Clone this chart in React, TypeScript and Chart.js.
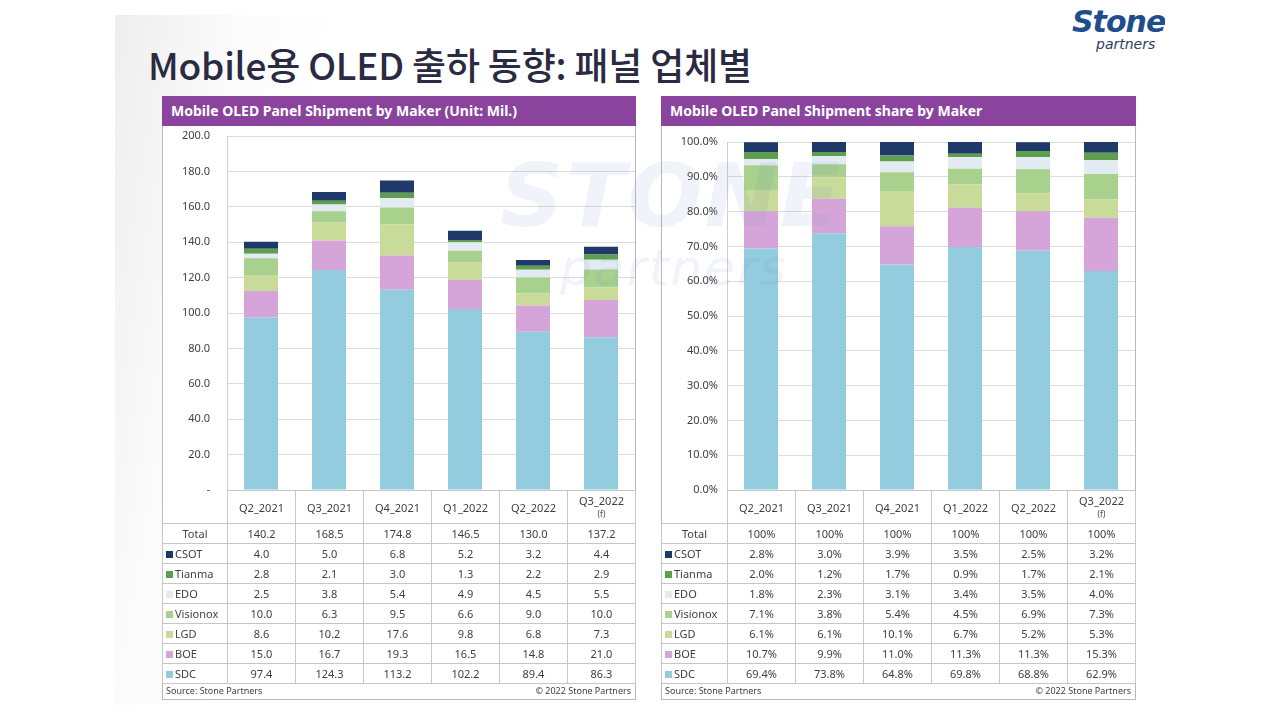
import React, { useEffect, useRef } from "react";
import { Chart, registerables } from "chart.js";

Chart.register(...registerables);

// ---------- DATA ----------
const categories = ["Q2_2021", "Q3_2021", "Q4_2021", "Q1_2022", "Q2_2022", "Q3_2022"];
const categoryNotes = ["", "", "", "", "", "(f)"];
const makers = ["CSOT", "Tianma", "EDO", "Visionox", "LGD", "BOE", "SDC"];
const makerColors = ["#1F3A68", "#5E9E4E", "#E1EBF1", "#A7D18C", "#C9DB99", "#D5A5D9", "#93CCDE"];

const csotUnits = [4.0, 5.0, 6.8, 5.2, 3.2, 4.4];
const tianmaUnits = [2.8, 2.1, 3.0, 1.3, 2.2, 2.9];
const edoUnits = [2.5, 3.8, 5.4, 4.9, 4.5, 5.5];
const visionoxUnits = [10.0, 6.3, 9.5, 6.6, 9.0, 10.0];
const lgdUnits = [8.6, 10.2, 17.6, 9.8, 6.8, 7.3];
const boeUnits = [15.0, 16.7, 19.3, 16.5, 14.8, 21.0];
const sdcUnits = [97.4, 124.3, 113.2, 102.2, 89.4, 86.3];
const totalUnits = [140.2, 168.5, 174.8, 146.5, 130.0, 137.2];

const csotShare = [2.8, 3.0, 3.9, 3.5, 2.5, 3.2];
const tianmaShare = [2.0, 1.2, 1.7, 0.9, 1.7, 2.1];
const edoShare = [1.8, 2.3, 3.1, 3.4, 3.5, 4.0];
const visionoxShare = [7.1, 3.8, 5.4, 4.5, 6.9, 7.3];
const lgdShare = [6.1, 6.1, 10.1, 6.7, 5.2, 5.3];
const boeShare = [10.7, 9.9, 11.0, 11.3, 11.3, 15.3];
const sdcShare = [69.4, 73.8, 64.8, 69.8, 68.8, 62.9];
const totalShare = [100, 100, 100, 100, 100, 100];

const unitSeries = [csotUnits, tianmaUnits, edoUnits, visionoxUnits, lgdUnits, boeUnits, sdcUnits];
const shareSeries = [csotShare, tianmaShare, edoShare, visionoxShare, lgdShare, boeShare, sdcShare];

const unitAxisMax = 200;
const unitAxisStep = 20;
const shareAxisMax = 100;
const shareAxisStep = 10;

const mainTitle = "Mobile용 OLED 출하 동향: 패널 업체별";
const unitTitle = "Mobile OLED Panel Shipment by Maker (Unit: Mil.)";
const shareTitle = "Mobile OLED Panel Shipment share by Maker";
const sourceText = "Source: Stone Partners";
const copyrightText = "© 2022 Stone Partners";
const logoWord = "Stone";
const logoSub = "partners";

// ---------- STYLE ----------
const FONT = "'Noto Sans', 'Open Sans', sans-serif";
const TEXT = "#404040";
const LINE = "#c6c6c6";
const PURPLE = "#8A449E";

type StackProps = {
  series: number[][];
  max: number;
  step: number;
  fmt: (v: number) => string;
  axisWidth: number;
  tickPad: number;
  padTop: number;
  padBottom: number;
  width: number;
  height: number;
};

function StackedChart(p: StackProps) {
  const ref = useRef<HTMLCanvasElement | null>(null);
  useEffect(() => {
    if (!ref.current) return;
    const order = makers.map((_, i) => i).reverse();
    const chart = new Chart(ref.current, {
      type: "bar",
      data: {
        labels: categories,
        datasets: order.map((i) => ({
          label: makers[i],
          data: p.series[i],
          backgroundColor: makerColors[i],
          borderWidth: 0,
          barPercentage: 0.5,
          categoryPercentage: 1,
        })),
      },
      options: {
        responsive: false,
        maintainAspectRatio: false,
        animation: false,
        layout: { padding: { top: p.padTop, right: 0, bottom: p.padBottom, left: 0 } },
        plugins: { legend: { display: false }, tooltip: { enabled: false } },
        scales: {
          x: { stacked: true, display: false, grid: { display: false } },
          y: {
            stacked: true,
            min: 0,
            max: p.max,
            ticks: {
              stepSize: p.step,
              padding: p.tickPad,
              color: TEXT,
              font: { family: FONT, size: 11 },
              callback: (v: any) => p.fmt(Number(v)),
            },
            grid: { color: "#dcdcdc", drawTicks: false, lineWidth: 1 },
            border: { display: true, color: "#cfcfcf" },
            afterFit: (s: any) => {
              s.width = p.axisWidth;
              s.paddingTop = 0;
              s.paddingBottom = 0;
            },
          },
        },
      },
    });
    return () => chart.destroy();
  }, []);
  return <canvas ref={ref} width={p.width} height={p.height} style={{ display: "block", width: p.width, height: p.height }} />;
}

type TableProps = {
  series: number[][];
  totals: number[];
  fmt: (v: number) => string;
  totalFmt: (v: number) => string;
  labelWidth: number;
};

function DataTable(t: TableProps) {
  const cell: React.CSSProperties = {
    border: `1px solid ${LINE}`,
    textAlign: "center",
    padding: 0,
    height: 19,
    fontSize: 11,
    color: TEXT,
    whiteSpace: "nowrap",
    overflow: "hidden",
  };
  return (
    <table
      style={{
        borderCollapse: "collapse",
        tableLayout: "fixed",
        width: t.labelWidth + 68 * 6,
        fontFamily: FONT,
      }}
    >
      <colgroup>
        <col style={{ width: t.labelWidth }} />
        {categories.map((c) => (
          <col key={c} style={{ width: 68 }} />
        ))}
      </colgroup>
      <tbody>
        <tr>
          <td style={{ ...cell, borderTop: "none", borderLeft: "none", height: 32 }}></td>
          {categories.map((c, i) => (
            <td key={c} style={{ ...cell, height: 32, lineHeight: "13px" }}>
              {c}
              {categoryNotes[i] ? <div style={{ fontSize: 8 }}>{categoryNotes[i]}</div> : null}
            </td>
          ))}
        </tr>
        <tr>
          <td style={cell}>Total</td>
          {t.totals.map((v, i) => (
            <td key={i} style={cell}>
              {t.totalFmt(v)}
            </td>
          ))}
        </tr>
        {makers.map((m, r) => (
          <tr key={m}>
            <td style={{ ...cell, textAlign: "left", paddingLeft: 3 }}>
              <span
                style={{
                  display: "inline-block",
                  width: 7,
                  height: 7,
                  background: makerColors[r],
                  marginRight: 2,
                }}
              ></span>
              {m}
            </td>
            {t.series[r].map((v, i) => (
              <td key={i} style={cell}>
                {t.fmt(v)}
              </td>
            ))}
          </tr>
        ))}
      </tbody>
    </table>
  );
}

type PanelProps = {
  left: number;
  width: number;
  title: string;
  children: React.ReactNode;
  table: React.ReactNode;
};

function Panel(p: PanelProps) {
  return (
    <div
      style={{
        position: "absolute",
        left: p.left,
        top: 96,
        width: p.width,
        height: 604,
        border: `1px solid #b8b8b8`,
        boxSizing: "border-box",
        background: "#ffffff",
      }}
    >
      <div style={{ position: "absolute", left: -1, top: 29 }}>{p.children}</div>
      <div style={{ position: "absolute", left: -1, top: 393 }}>{p.table}</div>
      <div
        style={{
          position: "absolute",
          left: -1,
          top: -1,
          width: p.width,
          height: 30,
          background: PURPLE,
          color: "#fff",
          fontFamily: FONT,
          fontWeight: 700,
          fontSize: 14,
          lineHeight: "30px",
          paddingLeft: 9,
          boxSizing: "border-box",
        }}
      >
        {p.title}
      </div>
      <div
        style={{
          position: "absolute",
          left: 3,
          right: 4,
          top: 587,
          fontFamily: FONT,
          fontSize: 9,
          color: TEXT,
          display: "flex",
          justifyContent: "space-between",
        }}
      >
        <span>{sourceText}</span>
        <span>{copyrightText}</span>
      </div>
    </div>
  );
}

export default function App() {
  const unitFmt = (v: number) => (v === 0 ? "-" : v.toFixed(1));
  const shareFmt = (v: number) => `${v.toFixed(1)}%`;
  return (
    <div
      style={{
        position: "fixed",
        left: 0,
        top: 0,
        width: 1280,
        height: 720,
        background: "#ffffff",
        overflow: "hidden",
      }}
    >
      <div
        style={{
          position: "absolute",
          left: 115,
          top: 15,
          width: 1050,
          height: 690,
          background: "linear-gradient(100deg, #eeeeee 0px, #f4f4f4 60px, #fbfbfb 120px, #ffffff 220px)",
        }}
      />
      <div
        style={{
          position: "absolute",
          left: 148,
          top: 44,
          fontFamily: "'Noto Sans CJK KR', sans-serif",
          fontWeight: 500,
          fontSize: 37,
          lineHeight: "40px",
          color: "#2a2a42",
          letterSpacing: -0.2,
          whiteSpace: "nowrap",
        }}
      >
        {mainTitle}
      </div>
      <div
        style={{
          position: "absolute",
          left: 1072,
          top: 6,
          width: 93,
          height: 52,
          overflow: "hidden",
          color: "#1F4E8C",
          fontFamily: "'DejaVu Sans', sans-serif",
          fontStyle: "italic",
        }}
      >
        <div style={{ fontSize: 30, fontWeight: 700, lineHeight: "32px", letterSpacing: -1 }}>{logoWord}</div>
        <div style={{ position: "absolute", left: 24, top: 30, fontSize: 14, lineHeight: "16px", color: "#2a3f66" }}>
          {logoSub}
        </div>
      </div>

      <Panel
        left={162}
        width={474}
        title={unitTitle}
        table={
          <DataTable
            series={unitSeries}
            totals={totalUnits}
            fmt={(v) => v.toFixed(1)}
            totalFmt={(v) => v.toFixed(1)}
            labelWidth={65}
          />
        }
      >
        <StackedChart
          series={unitSeries}
          max={unitAxisMax}
          step={unitAxisStep}
          fmt={unitFmt}
          axisWidth={65}
          tickPad={17}
          padTop={10}
          padBottom={16}
          width={473}
          height={380}
        />
      </Panel>

      <Panel
        left={661}
        width={475}
        title={shareTitle}
        table={
          <DataTable
            series={shareSeries}
            totals={totalShare}
            fmt={(v) => `${v.toFixed(1)}%`}
            totalFmt={(v) => `${v.toFixed(0)}%`}
            labelWidth={66}
          />
        }
      >
        <StackedChart
          series={shareSeries}
          max={shareAxisMax}
          step={shareAxisStep}
          fmt={shareFmt}
          axisWidth={66}
          tickPad={9}
          padTop={16}
          padBottom={16}
          width={474}
          height={380}
        />
      </Panel>

      <div
        style={{
          position: "absolute",
          left: 500,
          top: 150,
          fontFamily: "'DejaVu Sans', sans-serif",
          fontStyle: "italic",
          fontWeight: 700,
          fontSize: 88,
          lineHeight: "92px",
          color: "rgba(110,140,195,0.10)",
          pointerEvents: "none",
          letterSpacing: 2,
        }}
      >
        {logoWord.toUpperCase()}
        <div style={{ fontSize: 50, lineHeight: "52px", marginLeft: 60, fontWeight: 400 }}>{logoSub}</div>
      </div>
    </div>
  );
}
